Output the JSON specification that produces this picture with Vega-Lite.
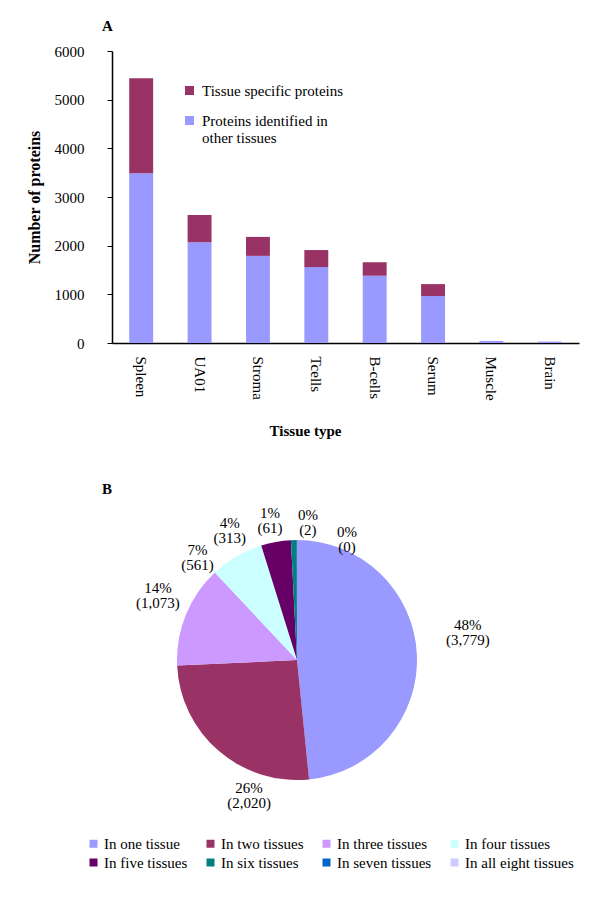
{
  "$schema": "https://vega.github.io/schema/vega-lite/v6.json",
  "background": "white",
  "padding": {"left": 26, "top": 19, "right": 5, "bottom": 5},
  "config": {
    "font": "Liberation Serif",
    "view": {"stroke": null},
    "axis": {"grid": false, "domainColor": "black", "tickColor": "black", "labelColor": "black", "titleColor": "black", "domainWidth": 1.5, "labelFontSize": 15, "titleFontWeight": "bold"},
    "legend": {"labelColor": "black", "labelFontSize": 15},
    "title": {"color": "black"}
  },
  "datasets": {
    "bars": [
      {"tissue": "Spleen", "type": "Proteins identified in other tissues", "count": 3490},
      {"tissue": "Spleen", "type": "Tissue specific proteins", "count": 1950},
      {"tissue": "UA01", "type": "Proteins identified in other tissues", "count": 2070},
      {"tissue": "UA01", "type": "Tissue specific proteins", "count": 560},
      {"tissue": "Stroma", "type": "Proteins identified in other tissues", "count": 1790},
      {"tissue": "Stroma", "type": "Tissue specific proteins", "count": 390},
      {"tissue": "Tcells", "type": "Proteins identified in other tissues", "count": 1560},
      {"tissue": "Tcells", "type": "Tissue specific proteins", "count": 350},
      {"tissue": "B-cells", "type": "Proteins identified in other tissues", "count": 1380},
      {"tissue": "B-cells", "type": "Tissue specific proteins", "count": 280},
      {"tissue": "Serum", "type": "Proteins identified in other tissues", "count": 965},
      {"tissue": "Serum", "type": "Tissue specific proteins", "count": 245},
      {"tissue": "Muscle", "type": "Proteins identified in other tissues", "count": 40},
      {"tissue": "Muscle", "type": "Tissue specific proteins", "count": 2},
      {"tissue": "Brain", "type": "Proteins identified in other tissues", "count": 25},
      {"tissue": "Brain", "type": "Tissue specific proteins", "count": 2}
    ],
    "pie": [
      {"n": 1, "category": "In one tissue", "count": 3779, "label": "48%\n(3,779)"},
      {"n": 2, "category": "In two tissues", "count": 2020, "label": "26%\n(2,020)"},
      {"n": 3, "category": "In three tissues", "count": 1073, "label": "14%\n(1,073)"},
      {"n": 4, "category": "In four tissues", "count": 561, "label": "7%\n(561)"},
      {"n": 5, "category": "In five tissues", "count": 313, "label": "4%\n(313)"},
      {"n": 6, "category": "In six tissues", "count": 61, "label": "1%\n(61)"},
      {"n": 7, "category": "In seven tissues", "count": 2, "label": "0%\n(2)"},
      {"n": 8, "category": "In all eight tissues", "count": 0, "label": "0%\n(0)"}
    ]
  },
  "bounds": "flush",
  "spacing": 157,
  "resolve": {"scale": {"color": "independent"}, "legend": {"color": "independent"}},
  "vconcat": [
    {
      "width": 467,
      "height": 292,
      "title": {"text": "A", "anchor": "start", "frame": "group", "dx": -10, "dy": 10, "offset": 20, "fontSize": 15, "fontWeight": "bold"},
      "data": {"name": "bars"},
      "mark": {"type": "bar"},
      "encoding": {
        "x": {
          "field": "tissue", "type": "nominal",
          "sort": ["Spleen", "UA01", "Stroma", "Tcells", "B-cells", "Serum", "Muscle", "Brain"],
          "scale": {"paddingInner": 0.59, "paddingOuter": 0.295},
          "axis": {"title": "Tissue type", "titleFontSize": 15, "titleX": 193, "titleY": 87, "titleBaseline": "middle", "labelAngle": 90, "labelPadding": 13, "ticks": false}
        },
        "y": {
          "field": "count", "type": "quantitative", "stack": "zero",
          "scale": {"domain": [0, 6000]},
          "axis": {"title": "Number of proteins", "titleFontSize": 16, "titleX": -78, "titleBaseline": "middle", "values": [0, 1000, 2000, 3000, 4000, 5000, 6000], "format": "d", "tickSize": 5, "labelPadding": 23}
        },
        "color": {
          "field": "type", "type": "nominal",
          "scale": {"domain": ["Tissue specific proteins", "Proteins identified in other tissues"], "range": ["#993366", "#9999FF"]},
          "legend": {"title": null, "orient": "none", "legendX": 70, "legendY": 32, "symbolType": "square", "symbolSize": 81, "symbolStrokeWidth": 0, "symbolOpacity": 1, "labelOffset": 5, "rowPadding": 14, "labelExpr": "datum.label == 'Proteins identified in other tissues' ? ['Proteins identified in', 'other tissues'] : datum.label"}
        },
        "order": {"field": "type", "sort": "ascending"}
      }
    },
    {
      "width": 370,
      "height": 320,
      "title": {"text": "B", "anchor": "start", "frame": "group", "dx": -10, "dy": 25, "offset": 4, "fontSize": 15, "fontWeight": "bold"},
      "data": {"name": "pie"},
      "encoding": {
        "theta": {"field": "count", "type": "quantitative", "stack": true},
        "order": {"field": "n", "type": "quantitative"}
      },
      "layer": [
        {
          "mark": {"type": "arc", "outerRadius": 120},
          "encoding": {
            "color": {
              "field": "category", "type": "nominal",
              "scale": {
                "domain": ["In one tissue", "In two tissues", "In three tissues", "In four tissues", "In five tissues", "In six tissues", "In seven tissues", "In all eight tissues"],
                "range": ["#9999FF", "#993366", "#CC99FF", "#CCFFFF", "#660066", "#008080", "#0066CC", "#CCCCFF"]
              },
              "legend": {"title": null, "orient": "none", "legendX": -26, "legendY": 336, "direction": "horizontal", "columns": 4, "symbolType": "square", "symbolSize": 64, "symbolStrokeWidth": 0, "symbolOpacity": 1, "labelOffset": 3, "columnPadding": 15, "rowPadding": 3, "gridAlign": "each"}
            }
          }
        },
        {"mark": {"type": "text", "radius": 150, "dx": 21, "dy": -27, "fontSize": 15, "lineBreak": "\n", "lineHeight": 15, "align": "center", "baseline": "middle"},
         "encoding": {"text": {"condition": {"test": "datum.n == 1", "field": "label"}, "value": ""}}},
        {"mark": {"type": "text", "radius": 150, "dx": 50, "dy": 14, "fontSize": 15, "lineBreak": "\n", "lineHeight": 15, "align": "center", "baseline": "middle"},
         "encoding": {"text": {"condition": {"test": "datum.n == 2", "field": "label"}, "value": ""}}},
        {"mark": {"type": "text", "radius": 150, "dx": 0, "dy": -16, "fontSize": 15, "lineBreak": "\n", "lineHeight": 15, "align": "center", "baseline": "middle"},
         "encoding": {"text": {"condition": {"test": "datum.n == 3", "field": "label"}, "value": ""}}},
        {"mark": {"type": "text", "radius": 150, "dx": -24, "dy": 20, "fontSize": 15, "lineBreak": "\n", "lineHeight": 15, "align": "center", "baseline": "middle"},
         "encoding": {"text": {"condition": {"test": "datum.n == 4", "field": "label"}, "value": ""}}},
        {"mark": {"type": "text", "radius": 150, "dx": -41, "dy": 11, "fontSize": 15, "lineBreak": "\n", "lineHeight": 15, "align": "center", "baseline": "middle"},
         "encoding": {"text": {"condition": {"test": "datum.n == 5", "field": "label"}, "value": ""}}},
        {"mark": {"type": "text", "radius": 150, "dx": -23, "dy": 3, "fontSize": 15, "lineBreak": "\n", "lineHeight": 15, "align": "center", "baseline": "middle"},
         "encoding": {"text": {"condition": {"test": "datum.n == 6", "field": "label"}, "value": ""}}},
        {"mark": {"type": "text", "radius": 150, "dx": 11, "dy": 5, "fontSize": 15, "lineBreak": "\n", "lineHeight": 15, "align": "center", "baseline": "middle"},
         "encoding": {"text": {"condition": {"test": "datum.n == 7", "field": "label"}, "value": ""}}},
        {"mark": {"type": "text", "radius": 150, "dx": 50, "dy": 22, "fontSize": 15, "lineBreak": "\n", "lineHeight": 15, "align": "center", "baseline": "middle"},
         "encoding": {"text": {"condition": {"test": "datum.n == 8", "field": "label"}, "value": ""}}}
      ]
    }
  ]
}
